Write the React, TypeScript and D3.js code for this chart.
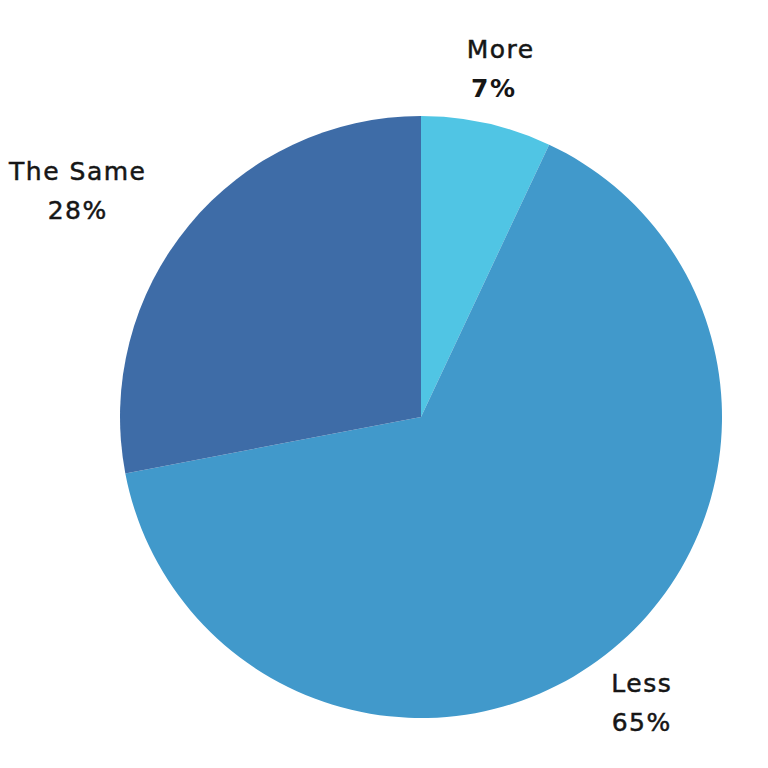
import React from "react";
import * as d3 from "d3";

const categories = ["More", "Less", "The Same"];
const values = [7, 65, 28];
const labels = ["7%", "65%", "28%"];
const colors = ["#50C5E4", "#4199CB", "#3E6CA7"];
const labelPos: [number, number][] = [
  [500, 49],
  [641, 683],
  [77, 171],
];

export default function App() {
  const W = 768, H = 768;
  const cx = 421, cy = 417, r = 301;
  const pie = d3.pie<number>().sort(null).value((d) => d)(values);
  const arc = d3.arc<d3.PieArcDatum<number>>().innerRadius(0).outerRadius(r);
  return (
    <svg width={W} height={H} style={{ position: "absolute", left: 0, top: 0, background: "#fff" }}>
      <g transform={`translate(${cx},${cy})`}>
        {pie.map((p, i) => (
          <path key={i} d={arc(p) || ""} fill={colors[i]} />
        ))}
      </g>
      {categories.map((c, i) => (
        <g key={c} fontFamily="'DejaVu Sans', sans-serif" fill="#161616" textAnchor="middle" letterSpacing={1.5}>
          <text x={labelPos[i][0] + 0.75} y={labelPos[i][1]} dy="0.35em" fontSize={25} stroke="#161616" strokeWidth={0.5}>
            {c}
          </text>
          <text x={labelPos[i][0] - (i === 0 ? 7 : 0) + 0.75} y={labelPos[i][1] + 39} dy="0.35em" fontSize={25}
            fontWeight={i === 0 ? 700 : 400} stroke="#161616" strokeWidth={i === 0 ? 0 : 0.5}>
            {labels[i]}
          </text>
        </g>
      ))}
    </svg>
  );
}
